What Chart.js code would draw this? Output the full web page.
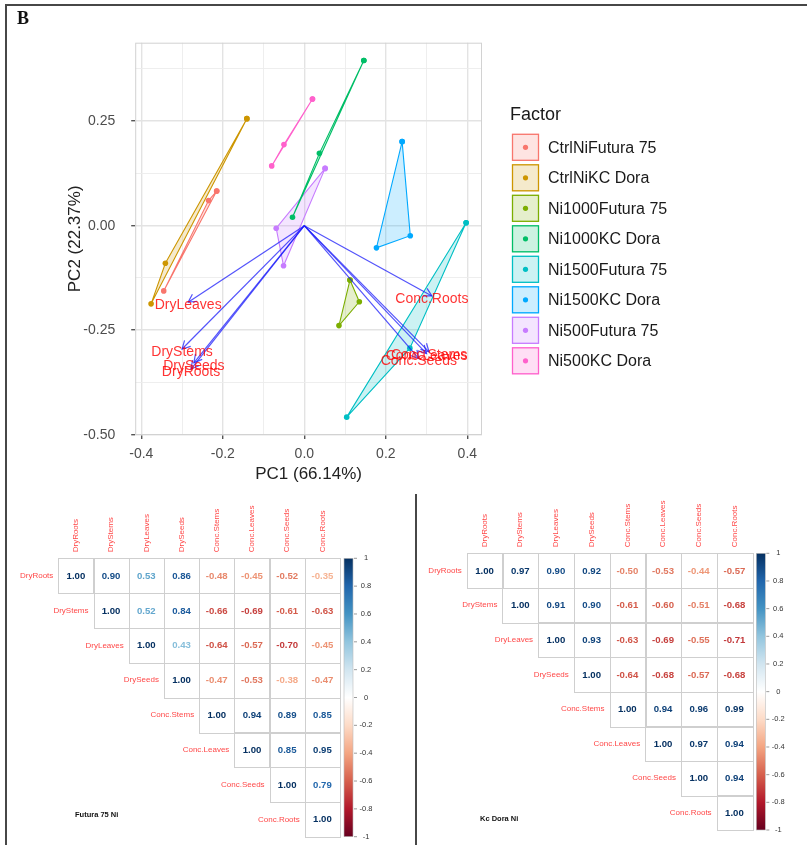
<!DOCTYPE html>
<html>
<head>
<meta charset="utf-8">
<title>PCA biplot and correlation matrices</title>
<script src="https://cdn.jsdelivr.net/npm/chart.js@4.4.1/dist/chart.umd.min.js"></script>
<style>
    body { margin: 0; background: #fff; }
    #page { position: relative; width: 807px; height: 845px; overflow: hidden; background: #fff; }
    canvas { position: absolute; }
    #pca { left: 0; top: 0; }
    #corrFutura { left: 0; top: 495px; }
    #corrDora { left: 416px; top: 495px; }
    .rule { position: absolute; background: #474747; }
    #panelTag { position: absolute; left: 17px; top: 8px; font: bold 18px "Liberation Serif", "Times New Roman", serif; color: #111; }
</style>
</head>
<body>
<div id="page">
    <canvas id="pca" width="807" height="495"></canvas>
    <canvas id="corrFutura" width="414" height="350"></canvas>
    <canvas id="corrDora" width="391" height="350"></canvas>
    <div class="rule" style="left:5px;top:4px;width:802px;height:2px"></div>
    <div class="rule" style="left:5px;top:4px;width:2px;height:841px"></div>
    <div class="rule" style="left:415px;top:494px;width:2px;height:351px"></div>
    <div id="panelTag">B</div>
</div>

<script>
    // ---------- PCA biplot data ----------
    const groups = ['CtrlNiFutura 75', 'CtrlNiKC Dora', 'Ni1000Futura 75', 'Ni1000KC Dora',
        'Ni1500Futura 75', 'Ni1500KC Dora', 'Ni500Futura 75', 'Ni500KC Dora'];
    const groupColors = ['#F8766D', '#CD9600', '#7CAE00', '#00BE67', '#00BFC4', '#00A9FF', '#C77CFF', '#FF61CC'];
    // hull vertices per group (PC1, PC2)
    const groupPC1 = [
        [-0.215, -0.235, -0.345],
        [-0.141, -0.341, -0.376],
        [0.112, 0.135, 0.085],
        [0.146, 0.037, -0.029],
        [0.397, 0.259, 0.104],
        [0.240, 0.260, 0.177],
        [0.051, -0.069, -0.051],
        [0.020, -0.050, -0.080]
    ];
    const groupPC2 = [
        [0.083, 0.060, -0.156],
        [0.256, -0.090, -0.187],
        [-0.130, -0.182, -0.239],
        [0.395, 0.173, 0.020],
        [0.007, -0.293, -0.458],
        [0.201, -0.024, -0.053],
        [0.137, -0.006, -0.096],
        [0.303, 0.194, 0.143]
    ];
    const varNames = ['DryRoots', 'DryStems', 'DryLeaves', 'DrySeeds', 'Conc.Stems', 'Conc.Leaves', 'Conc.Seeds', 'Conc.Roots'];
    const varPC1 = [-0.278, -0.300, -0.285, -0.271, 0.306, 0.300, 0.281, 0.313];
    const varPC2 = [-0.343, -0.295, -0.183, -0.328, -0.302, -0.306, -0.318, -0.168];
    const xTicks = [-0.4, -0.3, -0.2, -0.1, 0, 0.1, 0.2, 0.3, 0.4];
    const yTicks = [-0.5, -0.375, -0.25, -0.125, 0, 0.125, 0.25, 0.375];

    // ---------- correlation data (upper triangle, row i starts at column i) ----------
    const corrVars = ['DryRoots', 'DryStems', 'DryLeaves', 'DrySeeds', 'Conc.Stems', 'Conc.Leaves', 'Conc.Seeds', 'Conc.Roots'];
    const futuraCorr = [
        [1.00, 0.90, 0.53, 0.86, -0.48, -0.45, -0.52, -0.35],
        [1.00, 0.52, 0.84, -0.66, -0.69, -0.61, -0.63],
        [1.00, 0.43, -0.64, -0.57, -0.70, -0.45],
        [1.00, -0.47, -0.53, -0.38, -0.47],
        [1.00, 0.94, 0.89, 0.85],
        [1.00, 0.85, 0.95],
        [1.00, 0.79],
        [1.00]
    ];
    const doraCorr = [
        [1.00, 0.97, 0.90, 0.92, -0.50, -0.53, -0.44, -0.57],
        [1.00, 0.91, 0.90, -0.61, -0.60, -0.51, -0.68],
        [1.00, 0.93, -0.63, -0.69, -0.55, -0.71],
        [1.00, -0.64, -0.68, -0.57, -0.68],
        [1.00, 0.94, 0.96, 0.99],
        [1.00, 0.97, 0.94],
        [1.00, 0.94],
        [1.00]
    ];
    const colorbarTicks = [1, 0.8, 0.6, 0.4, 0.2, 0, -0.2, -0.4, -0.6, -0.8, -1];

    Chart.defaults.font.family = '"Liberation Sans", Arial, sans-serif';

    function rgba(hex, a) {
        const n = parseInt(hex.slice(1), 16);
        return 'rgba(' + (n >> 16 & 255) + ',' + (n >> 8 & 255) + ',' + (n & 255) + ',' + a + ')';
    }

    const rdbu = ['#67001F', '#B2182B', '#D6604D', '#F4A582', '#FDDBC7', '#FFFFFF',
        '#D1E5F0', '#92C5DE', '#4393C3', '#2166AC', '#053061'];

    function corrColor(v) {
        const pos = (v + 1) / 2 * (rdbu.length - 1);
        const i = Math.min(Math.floor(pos), rdbu.length - 2);
        const t = pos - i;
        const a = parseInt(rdbu[i].slice(1), 16), b = parseInt(rdbu[i + 1].slice(1), 16);
        const mix = s => Math.round((a >> s & 255) * (1 - t) + (b >> s & 255) * t);
        return 'rgb(' + mix(16) + ',' + mix(8) + ',' + mix(0) + ')';
    }

    // ---------- biplot ----------
    const hullSets = groups.map((g, i) => {
        const pts = groupPC1[i].map((x, k) => ({x: x, y: groupPC2[i][k]}));
        pts.push(pts[0]);
        return {
            label: g,
            data: pts,
            showLine: true,
            fill: 'shape',
            backgroundColor: rgba(groupColors[i], 0.2),
            borderColor: groupColors[i],
            borderWidth: 1.1,
            pointRadius: 2.8,
            pointBackgroundColor: groupColors[i],
            pointBorderWidth: 0,
            order: 2
        };
    });

    const arrowSets = varNames.map((v, i) => ({
        label: v,
        isArrow: true,
        data: [{x: 0, y: 0}, {x: varPC1[i], y: varPC2[i]}],
        showLine: true,
        fill: false,
        borderColor: 'rgba(25,25,250,0.75)',
        borderWidth: 1.2,
        pointRadius: 0,
        order: 1
    }));

    const biplotPlugin = {
        id: 'biplot',
        afterDatasetsDraw(chart) {
            const ctx = chart.ctx;
            const a = chart.chartArea;
            ctx.save();
            const arrows = [];
            chart.data.datasets.forEach((ds, i) => {
                if (ds.isArrow) arrows.push([ds, chart.getDatasetMeta(i)]);
            });
            // arrow heads
            arrows.forEach(([ds, m]) => {
                const p0 = m.data[0], p1 = m.data[1];
                const ang = Math.atan2(p1.y - p0.y, p1.x - p0.x);
                ctx.strokeStyle = ds.borderColor;
                ctx.lineWidth = 1.2;
                ctx.beginPath();
                ctx.moveTo(p1.x - 9 * Math.cos(ang - 0.5), p1.y - 9 * Math.sin(ang - 0.5));
                ctx.lineTo(p1.x, p1.y);
                ctx.lineTo(p1.x - 9 * Math.cos(ang + 0.5), p1.y - 9 * Math.sin(ang + 0.5));
                ctx.stroke();
            });
            // variable labels
            ctx.font = '14px "Liberation Sans", Arial, sans-serif';
            ctx.fillStyle = 'rgba(255,0,0,0.8)';
            ctx.textAlign = 'center';
            ctx.textBaseline = 'middle';
            arrows.forEach(([ds, m]) => {
                const p1 = m.data[1];
                ctx.fillText(ds.label, p1.x, p1.y + 3);
            });
            // panel border
            ctx.strokeStyle = '#d2d2d2';
            ctx.lineWidth = 1;
            ctx.strokeRect(a.left + 0.5, a.top + 0.5, a.width - 1, a.height - 1);
            ctx.restore();
        },
        afterDraw(chart) {
            const ctx = chart.ctx;
            ctx.save();
            ctx.textBaseline = 'middle';
            ctx.textAlign = 'left';
            ctx.fillStyle = '#1a1a1a';
            ctx.font = '18px "Liberation Sans", Arial, sans-serif';
            ctx.fillText('Factor', 510, 115);
            ctx.font = '16px "Liberation Sans", Arial, sans-serif';
            groups.forEach((g, i) => {
                const cy = 147.3 + i * 30.5;
                ctx.fillStyle = rgba(groupColors[i], 0.2);
                ctx.fillRect(512, cy - 13.5, 27, 27);
                ctx.strokeStyle = groupColors[i];
                ctx.lineWidth = 1.3;
                ctx.strokeRect(512.5, cy - 13, 26, 26);
                ctx.fillStyle = groupColors[i];
                ctx.beginPath();
                ctx.arc(525.5, cy, 2.6, 0, Math.PI * 2);
                ctx.fill();
                ctx.fillStyle = '#1a1a1a';
                ctx.fillText(g, 548, cy + 1);
            });
            ctx.restore();
        }
    };

    const isMajorX = v => Math.abs(Math.round(v * 10)) % 2 === 0;
    const isMajorY = v => Math.abs(Math.round(v * 8)) % 2 === 0;

    new Chart(document.getElementById('pca'), {
        type: 'scatter',
        data: {datasets: arrowSets.concat(hullSets)},
        options: {
            responsive: false,
            animation: false,
            events: [],
            layout: {padding: {top: 42.7, right: 325, bottom: 0, left: 0}},
            plugins: {legend: {display: false}, tooltip: {enabled: false}},
            scales: {
                x: {
                    type: 'linear',
                    min: -0.415,
                    max: 0.436,
                    afterBuildTicks: s => { s.ticks = xTicks.map(v => ({value: v})); },
                    afterFit: s => { s.height = 60; },
                    border: {display: false},
                    grid: {
                        color: c => isMajorX(c.tick.value) ? '#e3e3e3' : '#ececec',
                        lineWidth: c => isMajorX(c.tick.value) ? 1.4 : 0.9,
                        tickLength: 4,
                        tickColor: c => isMajorX(c.tick.value) ? '#555' : 'rgba(0,0,0,0)'
                    },
                    ticks: {
                        autoSkip: false,
                        maxRotation: 0,
                        padding: 7,
                        color: '#4d4d4d',
                        font: {size: 14},
                        callback: v => isMajorX(v) ? v.toFixed(1) : ''
                    },
                    title: {
                        display: true,
                        text: 'PC1 (66.14%)',
                        color: '#222',
                        font: {size: 17},
                        padding: {top: 0, bottom: 10}
                    }
                },
                y: {
                    type: 'linear',
                    min: -0.5007,
                    max: 0.4377,
                    afterBuildTicks: s => { s.ticks = yTicks.map(v => ({value: v})); },
                    afterFit: s => { s.width = 135.2; },
                    border: {display: false},
                    grid: {
                        color: c => isMajorY(c.tick.value) ? '#e3e3e3' : '#ececec',
                        lineWidth: c => isMajorY(c.tick.value) ? 1.4 : 0.9,
                        tickLength: 4,
                        tickColor: c => isMajorY(c.tick.value) ? '#555' : 'rgba(0,0,0,0)'
                    },
                    ticks: {
                        autoSkip: false,
                        padding: 16,
                        color: '#4d4d4d',
                        font: {size: 14},
                        callback: v => isMajorY(v) ? v.toFixed(2) : ''
                    },
                    title: {
                        display: true,
                        text: 'PC2 (22.37%)',
                        color: '#222',
                        font: {size: 17},
                        padding: {top: 64.8, bottom: 0}
                    }
                }
            }
        },
        plugins: [biplotPlugin]
    });

    // ---------- correlation matrices ----------
    function corrPlugin(vals, note) {
        return {
            id: 'corrplot',
            afterDatasetsDraw(chart) {
                const ctx = chart.ctx;
                const xs = chart.scales.x, ys = chart.scales.y, cb = chart.scales.cb;
                const area = chart.chartArea;
                const meta = chart.getDatasetMeta(0);
                ctx.save();
                // cell grid
                ctx.strokeStyle = '#cfcfcf';
                ctx.lineWidth = 1;
                for (let i = 0; i < corrVars.length; i++) {
                    for (let j = i; j < corrVars.length; j++) {
                        const x0 = xs.getPixelForValue(j), x1 = xs.getPixelForValue(j + 1);
                        const y0 = ys.getPixelForValue(i), y1 = ys.getPixelForValue(i + 1);
                        ctx.strokeRect(Math.round(x0) + 0.5, Math.round(y0) + 0.5, Math.round(x1 - x0), Math.round(y1 - y0));
                    }
                }
                // numbers
                ctx.font = 'bold 9.6px "Liberation Sans", Arial, sans-serif';
                ctx.textAlign = 'center';
                ctx.textBaseline = 'middle';
                meta.data.forEach((el, k) => {
                    ctx.fillStyle = corrColor(vals[k]);
                    ctx.fillText(vals[k].toFixed(2), el.x, el.y + 0.5);
                });
                // column labels
                ctx.font = '8px "Liberation Sans", Arial, sans-serif';
                ctx.fillStyle = 'rgba(255,20,20,0.8)';
                corrVars.forEach((name, j) => {
                    ctx.save();
                    ctx.translate(xs.getPixelForValue(j + 0.5), area.top - 6);
                    ctx.rotate(-Math.PI / 2);
                    ctx.textAlign = 'left';
                    ctx.fillText(name, 0, 0);
                    ctx.restore();
                });
                // row labels
                ctx.textAlign = 'right';
                corrVars.forEach((name, i) => {
                    ctx.fillText(name, xs.getPixelForValue(i) - 5, ys.getPixelForValue(i + 0.5));
                });
                // colour bar
                const bx0 = area.right + 4, bx1 = area.right + 13;
                const top = cb.getPixelForValue(1), bot = cb.getPixelForValue(-1);
                const grad = ctx.createLinearGradient(0, bot, 0, top);
                rdbu.forEach((c, k) => grad.addColorStop(k / (rdbu.length - 1), c));
                ctx.fillStyle = grad;
                ctx.fillRect(bx0, top, bx1 - bx0, bot - top);
                ctx.strokeStyle = '#bbb';
                ctx.lineWidth = 0.6;
                ctx.strokeRect(bx0, top, bx1 - bx0, bot - top);
                ctx.font = '7.5px "Liberation Sans", Arial, sans-serif';
                ctx.fillStyle = '#333';
                ctx.strokeStyle = '#555';
                ctx.textAlign = 'center';
                colorbarTicks.forEach(t => {
                    const y = cb.getPixelForValue(t);
                    ctx.beginPath();
                    ctx.moveTo(bx1 + 1, y);
                    ctx.lineTo(bx1 + 4, y);
                    ctx.stroke();
                    ctx.fillText(String(t), bx1 + 13, y);
                });
                // panel note
                ctx.font = 'bold 7.5px "Liberation Sans", Arial, sans-serif';
                ctx.fillStyle = '#111';
                ctx.textAlign = 'left';
                ctx.fillText(note.text, note.x, note.y);
                ctx.restore();
            }
        };
    }

    function corrChart(canvasId, values, pad, note) {
        const pts = [];
        const vals = [];
        values.forEach((row, i) => row.forEach((v, k) => {
            pts.push({x: i + k + 0.5, y: i + 0.5});
            vals.push(v);
        }));
        return new Chart(document.getElementById(canvasId), {
            type: 'scatter',
            data: {datasets: [{data: pts, pointRadius: 0, pointHoverRadius: 0}]},
            options: {
                responsive: false,
                animation: false,
                events: [],
                layout: {padding: pad},
                plugins: {legend: {display: false}, tooltip: {enabled: false}},
                scales: {
                    x: {type: 'linear', min: 0, max: corrVars.length, display: false},
                    y: {type: 'linear', min: 0, max: corrVars.length, reverse: true, display: false},
                    cb: {type: 'linear', axis: 'y', position: 'right', min: -1, max: 1, display: false}
                }
            },
            plugins: [corrPlugin(vals, note)]
        });
    }

    corrChart('corrFutura', futuraCorr, {left: 58.3, right: 74, top: 63.3, bottom: 8.3},
        {text: 'Futura 75 Ni', x: 75, y: 320});
    corrChart('corrDora', doraCorr, {left: 50.7, right: 54.7, top: 58.3, bottom: 15},
        {text: 'Kc Dora Ni', x: 64, y: 324});
</script>
</body>
</html>
